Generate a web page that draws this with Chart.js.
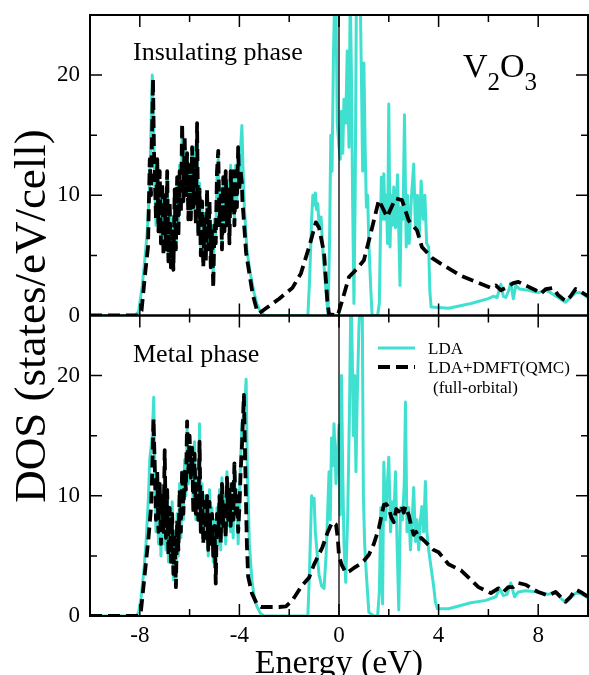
<!DOCTYPE html>
<html>
<head>
<meta charset="utf-8">
<title>V2O3 DOS</title>
<script src="https://cdn.jsdelivr.net/npm/chart.js@4.4.1/dist/chart.umd.min.js"></script>
<style>
  html, body { margin: 0; padding: 0; background: #fff; overflow: hidden; }
  #wrap { position: relative; width: 589px; height: 675px; }
</style>
</head>
<body>
<div id="wrap"><canvas id="dos" width="589" height="675"></canvas></div>
<script>
// ---- data (energy in eV, DOS in states/eV/cell) ----
const energyTicks = [-8, -4, 0, 4, 8];
const dosTicks = [0, 10, 20];
const seriesNames = ['LDA', 'LDA+DMFT(QMC)'];
const panelNames = ['Insulating phase', 'Metal phase'];

// shared energy grid of the O-2p band
const bandE = [-7.40, -7.35, -7.30, -7.25, -7.20, -7.15, -7.10, -7.05, -7.00, -6.95,
  -6.90, -6.85, -6.80, -6.75, -6.70, -6.65, -6.60, -6.55, -6.50, -6.45,
  -6.40, -6.35, -6.30, -6.25, -6.20, -6.15, -6.10, -6.05, -6.00, -5.95,
  -5.90, -5.85, -5.80, -5.75, -5.70, -5.65, -5.60, -5.55, -5.50, -5.45,
  -5.40, -5.35, -5.30, -5.25, -5.20, -5.15, -5.10, -5.05, -5.00, -4.95,
  -4.90, -4.85, -4.80, -4.75, -4.70, -4.65, -4.60, -4.55, -4.50, -4.45,
  -4.40, -4.35, -4.30, -4.25, -4.20, -4.15, -4.10, -4.05, -4.00, -3.95, -3.90];

// insulating phase, LDA
const insLdaLow = [[-10, 0], [-8.2, 0], [-8.05, 0.3], [-7.9, 2.5], [-7.8, 4.6], [-7.7, 7], [-7.6, 11], [-7.5, 20], [-7.45, 16]];
const insLdaBand = [11, 7.5, 12.5, 8, 11, 6.5, 10.5, 5.5, 9.5, 6,
  11.5, 5, 9, 4.5, 8, 4, 10, 6, 11, 7,
  12.5, 9, 15, 10, 14.5, 10.5, 13, 9, 12, 8.5,
  13.5, 9.5, 14, 8, 15, 7, 11, 5.5, 9, 4.5,
  8.5, 5, 10, 6, 9, 4.5, 7.5, 3, 8, 6.5,
  11.5, 13, 8, 10.5, 6, 11, 7.5, 12, 8, 11,
  6.5, 12.5, 9, 11.5, 8, 12.5, 9.5, 13, 11, 14, 15.8];
const insLdaHigh = [[-3.85, 12], [-3.8, 9], [-3.7, 5.5], [-3.6, 4], [-3.5, 2.8], [-3.4, 1.8], [-3.3, 1], [-3.2, 0.5], [-3.0, 0],
  [-1.25, 0], [-1.18, 3], [-1.1, 8], [-1.05, 10], [-1.0, 9.2], [-0.95, 10.2], [-0.9, 8.8], [-0.85, 9.3], [-0.8, 7.5],
  [-0.72, 8.2], [-0.65, 5.5], [-0.58, 3.5], [-0.5, 1.5], [-0.44, 0], [-0.38, 6], [-0.33, 15], [-0.28, 12], [-0.22, 22],
  [-0.17, 27], [-0.12, 26], [-0.07, 16], [0, 14], [0.05, 13], [0.1, 17], [0.15, 13.5], [0.2, 18], [0.27, 16], [0.33, 22],
  [0.4, 14], [0.45, 27], [0.5, 20], [0.55, 9], [0.6, 1], [0.65, 10], [0.7, 27], [0.75, 26], [0.8, 28], [0.85, 27],
  [0.9, 20], [0.95, 12], [1.0, 21], [1.05, 14], [1.1, 9], [1.15, 10], [1.2, 6], [1.27, 2.5], [1.33, 0], [1.45, 0],
  [1.55, 0], [1.62, 1], [1.7, 11.5], [1.75, 8], [1.8, 11.8], [1.85, 8], [1.9, 10], [1.95, 6], [2.0, 17.6], [2.05, 5.7],
  [2.1, 10], [2.15, 7.5], [2.2, 10.7], [2.27, 7.3], [2.35, 11.7], [2.45, 2.5], [2.5, 9], [2.57, 8], [2.63, 16.7],
  [2.7, 5.7], [2.75, 10], [2.82, 6], [2.9, 9.5], [3.0, 12.6], [3.07, 7.2], [3.15, 10], [3.22, 6.5], [3.3, 11.2],
  [3.38, 8], [3.45, 10], [3.52, 6], [3.6, 5.7], [3.65, 2], [3.7, 0.7], [4.4, 0.6], [5.3, 1.0], [6.0, 1.4], [6.2, 1.6],
  [6.35, 1.5], [6.5, 2.6], [6.6, 1.6], [6.7, 1.5], [6.8, 2], [6.9, 2.7], [7.0, 1.4], [7.1, 2.5], [7.25, 2.2], [7.6, 2.1],
  [8.0, 1.9], [8.3, 2.1], [8.5, 1.9], [8.8, 1.5], [9.1, 1.1], [9.3, 1.5], [9.5, 1.9], [9.7, 1.9], [10, 1.5]];

// insulating phase, LDA+DMFT
const insDmftLow = [[-10, 0], [-8.05, 0], [-7.93, 0.4], [-7.8, 3.2], [-7.67, 5.7], [-7.6, 13], [-7.55, 10], [-7.47, 19.7], [-7.43, 13.6]];
const insDmftBand = [12, 8, 13, 7, 12, 6, 11, 5, 10, 5.5,
  12, 4.5, 9.5, 4, 7, 3.8, 10.5, 5.5, 11.5, 6.5,
  12, 8.5, 16, 9.5, 15, 10, 13.5, 8, 12.5, 8,
  14, 9, 13, 7.5, 16, 6.5, 10.5, 5, 9.5, 4,
  8, 4.5, 10.5, 5.5, 9.5, 4, 7, 2.3, 7.5, 6,
  12, 13.7, 7.5, 10, 5.5, 11.5, 7, 12, 7.5, 10.5,
  6, 12, 8.5, 12, 7.5, 12, 9, 14, 10.5, 12, 11];
const insDmftHigh = [[-3.88, 9.6], [-3.73, 5.2], [-3.47, 1.8], [-3.28, 0.3], [-3.2, 0.2], [-2.93, 0.6], [-2.4, 1.4],
  [-1.87, 2.3], [-1.53, 3.5], [-1.2, 5.7], [-0.93, 7.75], [-0.8, 7.3], [-0.6, 5.2], [-0.47, 1.25], [-0.4, 0.1],
  [-0.05, 0], [0.13, 1.25], [0.4, 3.2], [0.73, 3.9], [1.0, 4.6], [1.27, 6.8], [1.6, 9.6], [1.93, 8.2], [2.27, 9.75],
  [2.53, 9.6], [2.8, 7.9], [3.13, 7.1], [3.33, 5.7], [3.73, 4.8], [4.1, 4.3], [4.9, 3.3], [5.5, 2.8], [6.1, 2.3],
  [6.3, 2.5], [6.5, 2.1], [6.8, 2.4], [7.0, 2.7], [7.2, 2.8], [7.4, 2.6], [7.6, 2.4], [7.9, 2.1], [8.1, 1.8],
  [8.3, 2.2], [8.6, 2.3], [8.8, 1.7], [9.1, 1.2], [9.3, 1.6], [9.5, 2.2], [9.7, 2.0], [10, 1.6]];

// metal phase, LDA
const metLdaLow = [[-10, 0], [-8.15, 0], [-8.05, 0.3], [-7.95, 1.5], [-7.85, 3.5], [-7.75, 6], [-7.65, 10], [-7.6, 13], [-7.5, 15], [-7.44, 18.2]];
const metLdaBand = [13, 7, 11, 6, 10.5, 5, 9.5, 6, 11, 5.5,
  10, 4.5, 8.5, 5, 9.5, 3, 7, 2.5, 8.5, 5,
  11, 6.5, 12, 8, 13, 10, 15.5, 11, 14, 12,
  13, 9, 14.5, 8, 12, 9.5, 16, 7.5, 11, 6.5,
  10, 7, 9.5, 5, 10.5, 6.5, 9, 4.5, 8, 3,
  9, 6, 10.5, 5.5, 11.5, 7, 10, 6, 12, 7.5,
  11, 7, 10, 6.5, 12.5, 8, 10.5, 6, 9.5, 13, 16];
const metLdaHigh = [[-3.85, 16.5], [-3.8, 17], [-3.73, 19.7], [-3.68, 12], [-3.6, 6], [-3.5, 3], [-3.4, 1.5], [-3.3, 0.8],
  [-3.15, 0.2], [-3.0, 0], [-1.25, 0], [-1.18, 4], [-1.1, 10], [-1.05, 9.4], [-1.0, 9.8], [-0.95, 7], [-0.87, 5],
  [-0.8, 3.4], [-0.7, 2.5], [-0.6, 2.3], [-0.52, 5], [-0.47, 7.8], [-0.4, 12], [-0.35, 8], [-0.3, 14.8], [-0.25, 12.5],
  [-0.2, 16], [-0.12, 11], [-0.05, 14], [0, 15.9], [0.05, 8.4], [0.1, 20], [0.15, 12], [0.2, 6], [0.27, 2.8],
  [0.35, 8.4], [0.42, 17], [0.48, 27], [0.53, 22], [0.58, 15], [0.63, 20], [0.68, 12], [0.73, 18], [0.8, 24],
  [0.87, 27], [0.93, 27], [0.98, 10], [1.03, 6], [1.1, 3.4], [1.2, 0.3], [1.4, 0], [1.55, 0], [1.62, 2], [1.68, 9],
  [1.75, 1], [1.8, 12.8], [1.87, 8], [1.93, 10.5], [2.0, 13.2], [2.07, 7], [2.13, 9.5], [2.2, 8], [2.27, 12],
  [2.33, 6.2], [2.4, 0.5], [2.47, 9], [2.55, 8], [2.62, 11], [2.67, 17.8], [2.73, 7], [2.8, 9], [2.87, 5.5],
  [2.95, 8.5], [3.0, 10.7], [3.07, 6.2], [3.13, 8], [3.2, 5.5], [3.27, 8], [3.33, 9.1], [3.4, 7], [3.47, 11.2],
  [3.53, 7], [3.6, 5.5], [3.7, 4], [3.8, 2.5], [3.87, 1.2], [3.95, 0.6], [4.4, 0.6], [5.3, 1.1], [5.9, 1.3],
  [6.3, 1.6], [6.45, 2.3], [6.6, 1.7], [6.75, 1.8], [6.9, 2.75], [7.05, 1.6], [7.2, 2.0], [7.5, 2.1], [8.0, 2.0],
  [8.4, 1.8], [8.7, 2.0], [8.9, 1.5], [9.1, 1.1], [9.3, 1.5], [9.5, 1.9], [9.7, 1.9], [10, 1.5]];

// metal phase, LDA+DMFT
const metDmftLow = [[-10, 0], [-8.05, 0], [-7.95, 0.5], [-7.85, 2.5], [-7.75, 4.5], [-7.65, 6.5], [-7.55, 9], [-7.5, 12], [-7.45, 16.4]];
const metDmftBand = [12.5, 8, 12, 7, 11, 6, 10, 7, 13.8, 6.5,
  10.5, 5, 9, 4.5, 8.5, 3.5, 6.5, 2.4, 8, 5.5,
  10.5, 7, 12.2, 8.5, 12, 10.5, 16.2, 12, 15, 11.5,
  14, 8.5, 13.5, 8.5, 11, 8, 14.5, 7, 10.5, 6,
  9.5, 6.5, 10, 5.5, 9.5, 6, 8.5, 5, 7.5, 2.7,
  8.5, 6.5, 10, 6, 11, 7.5, 9.5, 6.5, 11.5, 8,
  10.5, 7.5, 11, 8, 12.7, 8.5, 10, 7, 9, 12, 14];
const metDmftHigh = [[-3.82, 18.4], [-3.75, 11], [-3.7, 6], [-3.65, 3.3], [-3.5, 1.9], [-3.3, 1.0], [-3.13, 0.75],
  [-2.4, 0.75], [-2.13, 0.8], [-1.87, 1.3], [-1.5, 2.5], [-1.2, 3.2], [-1.0, 4.3], [-0.67, 5.7], [-0.45, 7],
  [-0.27, 7.8], [-0.12, 7.6], [-0.05, 6.5], [0, 5], [0.1, 4.3], [0.27, 3.6], [0.4, 3.7], [0.6, 4], [0.8, 4.25],
  [1.0, 4.6], [1.2, 5.1], [1.4, 6], [1.6, 7.3], [1.8, 9.25], [1.9, 9.3], [2.0, 9], [2.1, 8.2], [2.2, 7.8],
  [2.3, 8.9], [2.4, 8.7], [2.5, 9.2], [2.6, 8.6], [2.67, 9.1], [2.8, 8.4], [2.9, 7.5], [3.0, 6.75], [3.1, 7],
  [3.2, 6.4], [3.3, 6.5], [3.45, 6.2], [3.6, 5.9], [3.8, 5.5], [4.0, 5.3], [4.4, 4.3], [4.9, 3.8], [5.6, 2.4],
  [6.1, 1.9], [6.4, 2.3], [6.6, 2.0], [6.8, 2.4], [7.0, 2.4], [7.2, 2.75], [7.5, 2.6], [7.8, 2.2], [8.0, 2.0],
  [8.4, 1.7], [8.7, 2.0], [8.9, 1.6], [9.1, 1.2], [9.3, 1.6], [9.5, 2.2], [9.7, 2.0], [10, 1.6]];

// ---- styling ----
const SERIF = "'Liberation Serif', 'Times New Roman', 'DejaVu Serif', serif";
const CYAN = '#40E0D0';
const xMinor = [-6, -2, 2, 6];
const yMajor = [10, 20];
const yMinor = [5, 15];

Chart.defaults.font.family = SERIF;
Chart.defaults.color = '#000';

function toPoints(low, band, high) {
  const pts = low.map(p => ({ x: p[0], y: p[1] }));
  bandE.forEach((e, i) => pts.push({ x: e, y: band[i] }));
  high.forEach(p => pts.push({ x: p[0], y: p[1] }));
  return pts;
}

function ldaSet(pts, yId) {
  return { label: seriesNames[0], data: pts, yAxisID: yId, order: 1,
    borderColor: CYAN, borderWidth: 3, borderJoinStyle: 'round', pointRadius: 0, tension: 0 };
}
function dmftSet(pts, yId) {
  return { label: seriesNames[1], data: pts, yAxisID: yId, order: 0,
    borderColor: '#000', borderWidth: 3.8, borderDash: [12, 6], borderJoinStyle: 'round',
    pointRadius: 0, tension: 0 };
}

// keep the plot box fixed: no automatic label padding
function noPad(s) {
  s.paddingTop = 0; s.paddingBottom = 0; s.paddingLeft = 0; s.paddingRight = 0;
}

function yScale() {
  return {
    type: 'linear', position: 'left', stack: 'dos', stackWeight: 1,
    min: 0, max: 25,
    afterBuildTicks: s => { s.ticks = dosTicks.map(v => ({ value: v })); },
    afterFit: s => { s.width = 90; noPad(s); },
    grid: { display: false, drawTicks: false },
    border: { display: false },
    ticks: { font: { size: 23 }, color: '#000', padding: 10 }
  };
}

// frames, inward ticks, zero line and annotations
const decor = {
  id: 'decor',
  afterDatasetsDraw(chart) {
    const { ctx } = chart;
    const x = chart.scales.x;
    const panels = [chart.scales.yIns, chart.scales.yMet];
    ctx.save();
    ctx.strokeStyle = '#000';
    panels.forEach(y => {
      const L = x.left, R = x.right, T = y.top, B = y.bottom;
      const x0 = x.getPixelForValue(0);
      ctx.lineWidth = 1.3;
      ctx.beginPath(); ctx.moveTo(x0, T); ctx.lineTo(x0, B); ctx.stroke();
      ctx.lineWidth = 2;
      ctx.strokeRect(L, T, R - L, B - T);
      ctx.lineWidth = 1.5;
      const xt = energyTicks.map(v => [v, 12]).concat(xMinor.map(v => [v, 7]));
      xt.forEach(([v, len]) => {
        const p = x.getPixelForValue(v);
        ctx.beginPath();
        ctx.moveTo(p, B); ctx.lineTo(p, B - len);
        ctx.moveTo(p, T); ctx.lineTo(p, T + len);
        ctx.stroke();
      });
      const yt = yMajor.map(v => [v, 12]).concat(yMinor.map(v => [v, 7]));
      yt.forEach(([v, len]) => {
        const p = y.getPixelForValue(v);
        ctx.beginPath();
        ctx.moveTo(L, p); ctx.lineTo(L + len, p);
        ctx.moveTo(R, p); ctx.lineTo(R - len, p);
        ctx.stroke();
      });
    });

    ctx.fillStyle = '#000';
    ctx.textBaseline = 'alphabetic';
    ctx.textAlign = 'left';
    ctx.font = '26px ' + SERIF;
    ctx.fillText(panelNames[0], 133, 60);
    ctx.fillText(panelNames[1], 133, 362);

    // V2O3
    let cx = 463;
    const parts = [['V', 34, 77], ['2', 25, 90], ['O', 34, 77], ['3', 25, 90]];
    parts.forEach(([t, size, base]) => {
      ctx.font = size + 'px ' + SERIF;
      ctx.fillText(t, cx, base);
      cx += ctx.measureText(t).width;
    });

    // legend
    ctx.lineWidth = 3;
    ctx.strokeStyle = CYAN;
    ctx.beginPath(); ctx.moveTo(378, 348); ctx.lineTo(415, 348); ctx.stroke();
    ctx.lineWidth = 3.8;
    ctx.strokeStyle = '#000';
    ctx.setLineDash([12, 6]);
    ctx.beginPath(); ctx.moveTo(378, 367); ctx.lineTo(415, 367); ctx.stroke();
    ctx.setLineDash([]);
    ctx.font = '17px ' + SERIF;
    ctx.fillText(seriesNames[0], 428, 354);
    ctx.fillText(seriesNames[1], 428, 373);
    ctx.fillText('(full-orbital)', 433, 393);

    // y axis title
    ctx.save();
    ctx.translate(45, 316);
    ctx.rotate(-Math.PI / 2);
    ctx.textAlign = 'center';
    ctx.font = '45px ' + SERIF;
    ctx.fillText('DOS (states/eV/cell)', 0, 0);
    ctx.restore();
    ctx.restore();
  }
};

new Chart(document.getElementById('dos'), {
  type: 'line',
  data: {
    datasets: [
      ldaSet(toPoints(insLdaLow, insLdaBand, insLdaHigh), 'yIns'),
      dmftSet(toPoints(insDmftLow, insDmftBand, insDmftHigh), 'yIns'),
      ldaSet(toPoints(metLdaLow, metLdaBand, metLdaHigh), 'yMet'),
      dmftSet(toPoints(metDmftLow, metDmftBand, metDmftHigh), 'yMet')
    ]
  },
  options: {
    responsive: false,
    animation: false,
    layout: { padding: { top: 15, right: 1, left: 0, bottom: 0 } },
    plugins: { legend: { display: false }, tooltip: { enabled: false } },
    scales: {
      x: {
        type: 'linear', position: 'bottom', min: -10, max: 10,
        afterBuildTicks: s => { s.ticks = energyTicks.map(v => ({ value: v })); },
        afterFit: s => { s.height = 59; noPad(s); },
        grid: { display: false, drawTicks: false },
        border: { display: false },
        ticks: { font: { size: 23 }, color: '#000', padding: 6, maxRotation: 0 },
        title: { display: true, text: 'Energy (eV)', color: '#000',
          font: { size: 34, lineHeight: 1 }, padding: { top: 0, bottom: -6 } }
      },
      yMet: yScale(),
      yIns: yScale()
    }
  },
  plugins: [decor]
});
</script>
</body>
</html>
